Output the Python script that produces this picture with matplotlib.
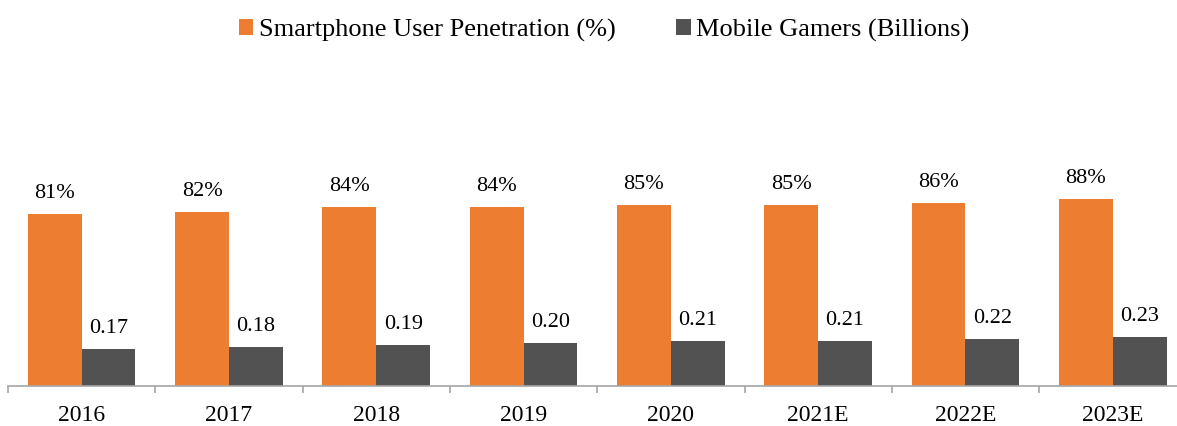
import matplotlib.pyplot as plt
import numpy as np

years = ['2016', '2017', '2018', '2019', '2020', '2021E', '2022E', '2023E']
penetration = [0.81, 0.82, 0.84, 0.84, 0.85, 0.85, 0.86, 0.88]
gamers = [0.17, 0.18, 0.19, 0.20, 0.21, 0.21, 0.22, 0.23]

orange = '#ED7D31'
grey = '#525252'

plt.rcParams['font.family'] = 'Liberation Serif'

fig = plt.figure(figsize=(11.77, 4.26), dpi=100)
# axes run a bit past the right edge like the original
ax = fig.add_axes([8 / 1177, 40.5 / 426, 1178.4 / 1177, 212 / 426])

x = np.arange(len(years))
w = 0.365
b1 = ax.bar(x - w / 2, penetration, w, color=orange, label='Smartphone User Penetration (%)')
b2 = ax.bar(x + w / 2, gamers, w, color=grey, label='Mobile Gamers (Billions)')

for rect, v in zip(b1, penetration):
    ax.annotate(f'{v * 100:.0f}%', (rect.get_x() + rect.get_width() / 2, v),
                xytext=(0, 11.5), textcoords='offset points',
                ha='center', va='baseline', fontsize=16)
for rect, v in zip(b2, gamers):
    ax.annotate(f'{v:.2f}', (rect.get_x() + rect.get_width() / 2, v),
                xytext=(0, 11.5), textcoords='offset points',
                ha='center', va='baseline', fontsize=16)

ax.set_xlim(-0.5, len(years) - 0.5)
ax.set_ylim(0, 1)
ax.set_yticks([])
for s in ['top', 'right', 'left']:
    ax.spines[s].set_visible(False)
ax.spines['bottom'].set_color('#A6A6A6')
ax.spines['bottom'].set_linewidth(1.2)

ax.set_xticks(np.arange(len(years) + 1) - 0.5, minor=True)
ax.set_xticks(x)
ax.set_xticklabels(years, fontsize=17)
ax.tick_params(axis='x', which='major', length=0, pad=14)
ax.tick_params(axis='x', which='minor', length=5, color='#A6A6A6', width=1.2)

fig.legend(loc='center', bbox_to_anchor=(604 / 1177, 1 - 30 / 426), ncol=2,
           frameon=False, fontsize=19, handlelength=0.55, handleheight=0.55,
           handletextpad=0.2, columnspacing=2.3)

fig.savefig('out.png', dpi=100)
